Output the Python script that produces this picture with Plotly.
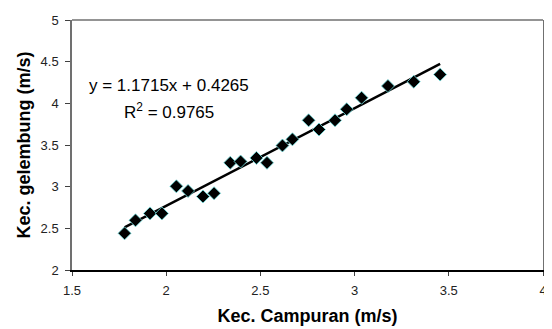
import plotly.graph_objects as go

x_vals = [1.779, 1.837, 1.914, 1.977, 2.054, 2.116, 2.195, 2.254, 2.340, 2.395,
          2.479, 2.535, 2.617, 2.670, 2.756, 2.811, 2.896, 2.958, 3.037, 3.177,
          3.314, 3.454]
y_vals = [2.44, 2.596, 2.679, 2.679, 3.004, 2.949, 2.882, 2.921, 3.286, 3.302,
          3.345, 3.286, 3.494, 3.568, 3.796, 3.686, 3.796, 3.929, 4.067, 4.208,
          4.259, 4.345]
slope = 1.1715
intercept = 0.4265
r2 = 0.9765
x_ticks = [1.5, 2, 2.5, 3, 3.5, 4]
y_ticks = [2, 2.5, 3, 3.5, 4, 4.5, 5]

x_line = [min(x_vals), max(x_vals)]
y_line = [slope * v + intercept for v in x_line]

FONT = "Arial, Liberation Sans, sans-serif"

fig = go.Figure()
fig.add_trace(go.Scatter(x=x_line, y=y_line, mode="lines",
                         line=dict(color="black", width=2.5), showlegend=False,
                         hoverinfo="skip"))
fig.add_trace(go.Scatter(x=x_vals, y=y_vals, mode="markers",
                         marker=dict(symbol="diamond", size=10, color="black",
                                     line=dict(color="#70e0e0", width=0.8)),
                         showlegend=False))

fig.add_annotation(x=1.579, y=4.212, xref="x", yref="y", xanchor="left", yanchor="middle",
                   text=f"y = {slope}x + {intercept}", showarrow=False,
                   font=dict(family=FONT, size=17, color="black"))
fig.add_annotation(x=1.768, y=3.91, xref="x", yref="y", xanchor="left", yanchor="middle",
                   text=f"R<sup>2</sup> = {r2}", showarrow=False,
                   font=dict(family=FONT, size=17, color="black"))

fig.add_shape(type="line", xref="paper", yref="paper", x0=0, x1=1, y0=1, y1=1,
              line=dict(color="#707070", width=1.5))

fig.update_layout(
    width=544, height=321,
    margin=dict(l=64, r=5, t=7, b=59),
    paper_bgcolor="white", plot_bgcolor="white",
    font=dict(family=FONT, size=13, color="#222222"),
    xaxis=dict(range=[1.5, 4], tickvals=x_ticks, ticktext=[str(t) for t in x_ticks],
               showgrid=False, zeroline=False, showline=True, linecolor="black",
               linewidth=1.5, ticks="outside", ticklen=4, tickcolor="#404040",
               ticklabelstandoff=4, ticklabeloverflow="allow", tickfont=dict(size=13),
               title=dict(text="<b>Kec. Campuran (m/s)</b>", font=dict(size=18, color="black"),
                          standoff=12)),
    yaxis=dict(range=[2, 5], tickvals=y_ticks, ticktext=[str(t) for t in y_ticks],
               showgrid=False, zeroline=False, showline=True, linecolor="#707070",
               linewidth=1.5, mirror=True, ticks="outside", ticklen=5, tickcolor="#404040",
               ticklabelstandoff=4, ticklabeloverflow="allow", tickfont=dict(size=13),
               title=dict(text="<b>Kec. gelembung (m/s)</b>", font=dict(size=18, color="black"),
                          standoff=5)),
)

fig.write_html("out.html")
